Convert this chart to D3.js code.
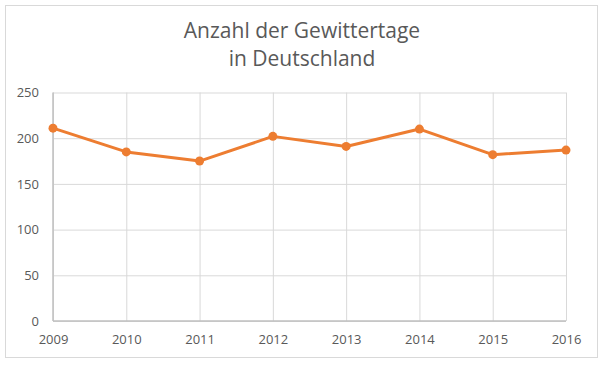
<!DOCTYPE html>
<html><head><meta charset="utf-8">
<script src="https://cdn.jsdelivr.net/npm/d3@7"></script>
<style>html,body{margin:0;padding:0;background:#fff;}</style>
</head><body>
<svg id="c" width="604" height="365"></svg>
<script>
const years = ["2009","2010","2011","2012","2013","2014","2015","2016"];
const values = [211, 185, 175, 202, 191, 210, 182, 187];
const yTicks = [0, 50, 100, 150, 200, 250];
const titleLines = ["Anzahl der Gewittertage", "in Deutschland"];

const svg = d3.select("#c");
const font = "'Open Sans', sans-serif";
svg.append("rect").attr("x",5.5).attr("y",5.5).attr("width",592).attr("height",352)
  .attr("fill","#fff").attr("stroke","#d9d9d9").attr("stroke-width",1);

const x = d3.scalePoint().domain(years).range([53, 566]);
const y = d3.scaleLinear().domain([0, 250]).range([321, 92.5]);

svg.append("g").selectAll("text").data(titleLines).join("text")
  .attr("x", 302).attr("y", (d,i)=>38 + i*28).attr("text-anchor","middle")
  .attr("font-family", font).attr("font-size", 21).attr("fill","#595959").text(d=>d);

// horizontal grid
const gy = svg.append("g").attr("transform","translate(53,0)")
  .call(d3.axisLeft(y).tickValues(yTicks).tickSize(-513).tickPadding(14));
gy.select(".domain").remove();
gy.selectAll(".tick line").attr("stroke","#d9d9d9");
gy.selectAll(".tick text").attr("font-family",font).attr("font-size",13).attr("fill","#595959");

// vertical grid + x labels
const gx = svg.append("g").attr("transform","translate(0,321)")
  .call(d3.axisBottom(x).tickSize(-228.5).tickPadding(14));
gx.select(".domain").remove();
gx.selectAll(".tick line").attr("stroke","#d9d9d9");
gx.selectAll(".tick text").attr("font-family",font).attr("font-size",13).attr("fill","#595959");

// axis lines
svg.append("line").attr("x1",53).attr("x2",53).attr("y1",92.5).attr("y2",321).attr("stroke","#bfbfbf").attr("stroke-width",1.5);
svg.append("line").attr("x1",53).attr("x2",566).attr("y1",321).attr("y2",321).attr("stroke","#bfbfbf").attr("stroke-width",1.5);

const data = years.map((yr,i)=>({yr, v: values[i]}));
svg.append("path").datum(data)
  .attr("fill","none").attr("stroke","#ED7D31").attr("stroke-width",3).attr("stroke-linejoin","round")
  .attr("d", d3.line().x(d=>x(d.yr)).y(d=>y(d.v)));
svg.append("g").selectAll("circle").data(data).join("circle")
  .attr("cx",d=>x(d.yr)).attr("cy",d=>y(d.v)).attr("r",4.5).attr("fill","#ED7D31");
</script>
</body></html>
